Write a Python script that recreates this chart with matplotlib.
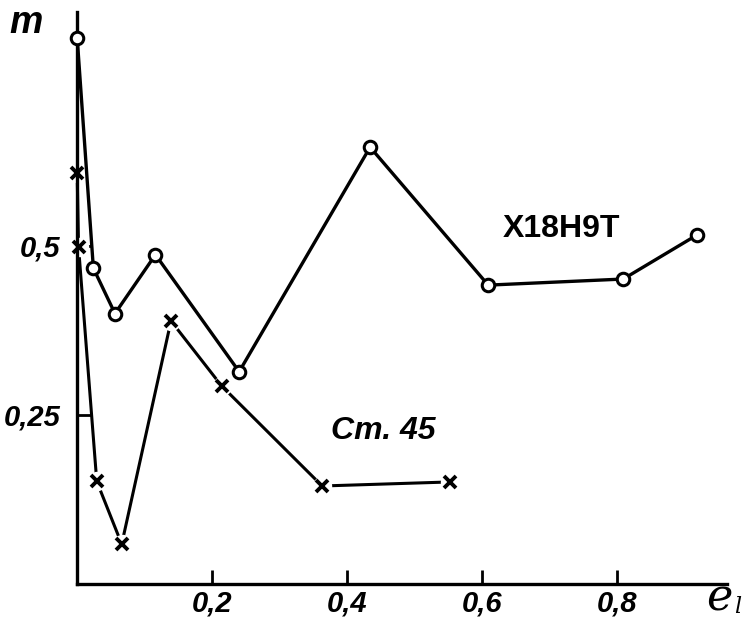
import matplotlib.pyplot as plt

# X18H9T (circles)
e_x18 = [0.0, 0.024, 0.056, 0.116, 0.24, 0.434, 0.609, 0.809, 0.918]
m_x18 = [0.808, 0.467, 0.40, 0.487, 0.314, 0.646, 0.442, 0.451, 0.516]

# Ст.45 (crosses)
e_st = [0.0, 0.002, 0.029, 0.066, 0.139, 0.214, 0.363, 0.553]
m_st = [0.608, 0.499, 0.152, 0.059, 0.389, 0.293, 0.145, 0.151]

xticks = [0.2, 0.4, 0.6, 0.8]
xlabels = ['0,2', '0,4', '0,6', '0,8']
yticks = [0.25, 0.5]
ylabels = ['0,25', '0,5']

narrow = ['Liberation Sans', 'DejaVu Sans']

fig = plt.figure(figsize=(7.42, 6.26), dpi=100)
ax = fig.add_axes([0.104, 0.067, 0.876, 0.914])

# circle curve
ax.plot(e_x18, m_x18, color='black', lw=2.4, marker='o', ms=9,
        mfc='white', mec='black', mew=2.2, clip_on=False, zorder=3)

# cross curve with small gaps round the crosses
ax.plot(e_st, m_st, color='black', lw=2.2, clip_on=False, zorder=2)
ax.plot(e_st, m_st, ls='none', marker='o', ms=14, mfc='white', mec='none',
        clip_on=False, zorder=2.5)
ax.plot(e_st, m_st, ls='none', marker='x', ms=8, mec='black', mew=2.8,
        clip_on=False, zorder=4)

ax.text(0.717, 0.525, 'Х18Н9Т', fontsize=23, fontweight='bold',
        family=narrow, ha='center', va='center')
ax.text(0.453, 0.226, 'Ст. 45', fontsize=23, fontweight='bold',
        fontstyle='italic', family=narrow, ha='center', va='center')

ax.set_xlim(0, 0.963)
ax.set_ylim(0, 0.846)
for s in ['top', 'right']:
    ax.spines[s].set_visible(False)
for s in ['left', 'bottom']:
    ax.spines[s].set_linewidth(2.4)

ax.set_xticks(xticks)
ax.set_xticklabels(xlabels)
ax.set_yticks(yticks)
ax.set_yticklabels(ylabels)
ax.tick_params(direction='in', length=10, width=2, pad=4)
ax.tick_params(axis='y', pad=12)
for lab in ax.get_xticklabels() + ax.get_yticklabels():
    lab.set_family(narrow)
    lab.set_fontsize(21)
    lab.set_fontweight('bold')
    lab.set_fontstyle('italic')

# axis names
fig.text(0.035, 0.963, 'm', fontsize=27, fontweight='bold', fontstyle='italic',
         family=narrow, ha='center', va='center')
fig.text(0.970, 0.045, 'e', fontsize=32, fontstyle='italic',
         family='DejaVu Serif', ha='center', va='center')
fig.text(0.994, 0.030, 'l', fontsize=16, fontstyle='italic',
         family='DejaVu Serif', ha='center', va='center')

fig.savefig('out.png', dpi=100)
